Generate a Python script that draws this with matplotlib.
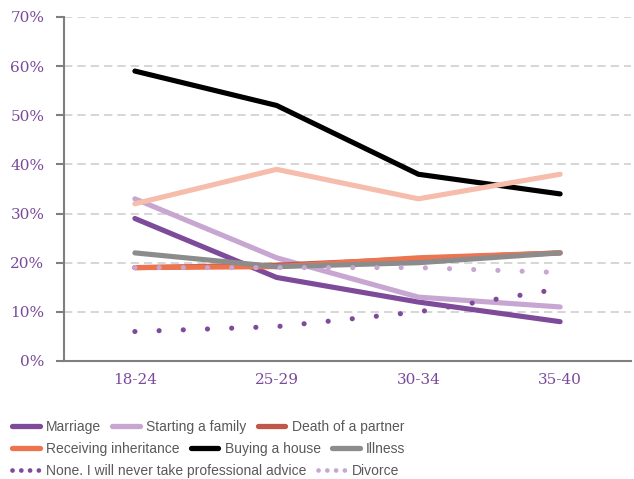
import matplotlib
matplotlib.use("Agg")
import matplotlib.pyplot as plt
from matplotlib.lines import Line2D
from matplotlib.ticker import FuncFormatter

categories = ["18-24", "25-29", "30-34", "35-40"]
marriage = [29, 17, 12, 8]
starting_family = [33, 21, 13, 11]
death_partner = [19, 19.5, 20.8, 22]
inheritance = [19, 19.2, 21, 22]
buying_house = [59, 52, 38, 34]
illness = [22, 19.2, 20, 22]
none_advice = [6, 7, 10, 14.7]
divorce = [19, 19, 19, 18]
unlabeled = [32, 39, 33, 38]

yticks = [0, 10, 20, 30, 40, 50, 60, 70]

fig = plt.figure(figsize=(6.34, 4.79), dpi=100)
ax = fig.add_axes([64/634, 1-361/479, (631-64)/634, (361-17)/479])

x = list(range(len(categories)))
lw = 3.7
dot = (0, (0.01, 4.7))
l_mar, = ax.plot(x, marriage, color="#7e4a9a", lw=lw, solid_capstyle="round", label="Marriage", zorder=3)
l_sf, = ax.plot(x, starting_family, color="#c8a6d2", lw=lw, solid_capstyle="round", label="Starting a family", zorder=3)
l_dp, = ax.plot(x, death_partner, color="#c0584a", lw=lw, solid_capstyle="round", label="Death of a partner", zorder=3)
l_inh, = ax.plot(x, inheritance, color="#ee7450", lw=lw, solid_capstyle="round", label="Receiving inheritance", zorder=3)
l_bh, = ax.plot(x, buying_house, color="#000000", lw=lw, solid_capstyle="round", label="Buying a house", zorder=3)
l_ill, = ax.plot(x, illness, color="#8c8c8c", lw=lw, solid_capstyle="round", label="Illness", zorder=3)
l_none, = ax.plot(x, none_advice, color="#7e4a9a", lw=lw, linestyle=dot,
                  dash_capstyle="round", label="None. I will never take professional advice", zorder=3)
l_div, = ax.plot(x, divorce, color="#c8a6d2", lw=lw, linestyle=dot,
                 dash_capstyle="round", label="Divorce", zorder=3)
ax.plot(x, unlabeled, color="#f6bcac", lw=lw, solid_capstyle="round", zorder=3)

ax.set_xlim(-0.5, 3.5)
ax.set_ylim(0, 70)
ax.set_yticks(yticks)
ax.yaxis.set_major_formatter(FuncFormatter(lambda v, p: f"{int(v)}%"))
ax.set_xticks(x)
ax.set_xticklabels(categories)

for s in ["top", "right"]:
    ax.spines[s].set_visible(False)
for s in ["left", "bottom"]:
    ax.spines[s].set_color("#7f7f7f")
    ax.spines[s].set_linewidth(1.5)

ax.grid(axis="y", color="#d0d0d0", linestyle=(0, (5, 3)), lw=1.2, zorder=0)
ax.tick_params(axis="y", length=6, width=1.5, color="#7f7f7f", labelcolor="#7a4a9a",
               labelsize=11, pad=8)
ax.tick_params(axis="x", length=0, labelcolor="#7a4a9a", labelsize=11, pad=9)
for lab in ax.get_yticklabels() + ax.get_xticklabels():
    lab.set_family("DejaVu Serif")


def proxy(line):
    if line.get_linestyle() == ":" or line in (l_none, l_div):
        return Line2D([], [], color=line.get_color(), lw=3.4,
                      linestyle=(0, (0.01, 1.85)), dash_capstyle="round",
                      label=line.get_label())
    return Line2D([], [], color=line.get_color(), lw=3.8,
                  solid_capstyle="round", label=line.get_label())


rows = [[l_mar, l_sf, l_dp], [l_inh, l_bh, l_ill], [l_none, l_div]]
ys = [427, 449, 471]
for handles, yy in zip(rows, ys):
    leg = fig.legend(handles=[proxy(h) for h in handles], loc="center left",
                     bbox_to_anchor=(12/634, 1 - yy/479), ncol=len(handles),
                     frameon=False, handlelength=2.0, handletextpad=0.45,
                     columnspacing=0.8, borderaxespad=0, borderpad=0,
                     prop={"family": "Liberation Sans", "size": 10})
    for t in leg.get_texts():
        t.set_color("#595959")

fig.savefig("out.png", dpi=100)
